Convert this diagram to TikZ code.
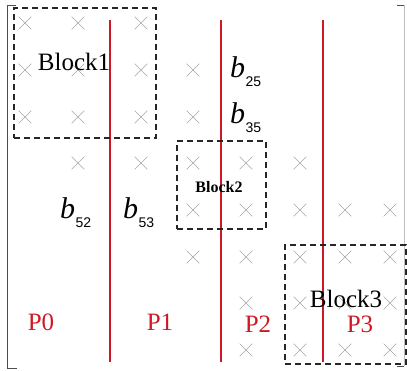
\documentclass[tikz,border=0pt]{standalone}
\usepackage{fontspec}
\setmainfont{Liberation Serif}
\newfontfamily\subfont{Liberation Sans}
\usetikzlibrary{shapes.misc}
\definecolor{pred}{RGB}{205,25,35}
\definecolor{xgray}{RGB}{165,165,165}
\begin{document}
\begin{tikzpicture}[x=1pt,y=-1pt,
  xmark/.style={cross out,draw=xgray,line width=0.6pt,minimum size=12pt,inner sep=0pt},
  blockbox/.style={draw=black!85,line width=1.7pt,dash pattern=on 6pt off 4pt},
  plabel/.style={text=pred,font=\fontsize{25}{25}\selectfont,anchor=base,inner sep=0pt},
  blabel/.style={anchor=base west,inner sep=0pt},
  partline/.style={draw=pred,line width=1.2pt},
  bracket/.style={draw=black!70,line width=1pt}]
\useasboundingbox (0,0) rectangle (407,370);
% crosses
\foreach \r/\y/\cols in {1/23/{1,2,3},2/70/{1,2,3,4},3/117/{1,2,3,4},4/163/{2,3,4,5,6},
  5/210/{4,5,6,7,8},6/257/{4,5,6,7,8},7/303/{5,6,7,8},8/350/{5,6,7,8}}{
  \foreach \c in \cols {
    \pgfmathsetmacro{\xx}{{0,25,78,141,193,246,300,345,390}[\c]}
    \node[xmark] (x\r\c) at (\xx,\y) {};
  }
}
% bracket
\coordinate (lt) at (16,5); \coordinate (ltc) at (7,5);
\coordinate (lb) at (17,368); \coordinate (lbc) at (7,368);
\draw[bracket] (lt) -- (ltc) -- (lbc) -- (lb);
\coordinate (rt) at (397,5); \coordinate (rtc) at (404,5);
\coordinate (rb) at (397,366); \coordinate (rbc) at (404,366);
\draw[bracket] (rt) -- (rtc);
\draw[draw=black!25,line width=0.6pt] (rtc) -- (rbc);
\draw[bracket] (rbc) -- (rb);
% partition lines
\coordinate (pt1) at (110,20); \coordinate (pb1) at (110,362);
\coordinate (pt2) at (221,20); \coordinate (pb2) at (221,362);
\coordinate (pt3) at (323,20); \coordinate (pb3) at (323,362);
\draw[partline] (pt1) -- (pb1);
\draw[partline] (pt2) -- (pb2);
\draw[partline] (pt3) -- (pb3);
% blocks
\node[blockbox,minimum width=142pt,minimum height=130pt,anchor=north west] (B1) at (13,7) {};
\node[blockbox,minimum width=89pt,minimum height=88pt,anchor=north west] (B2) at (176,140) {};
\node[blockbox,minimum width=121pt,minimum height=119pt,anchor=north west] (B3) at (284,244) {};
\node[anchor=base,inner sep=0pt,font=\fontsize{25}{25}\selectfont] (t1) at (74,70) {Block1};
\node[anchor=base,inner sep=0pt,font=\fontsize{16}{16}\selectfont\bfseries] (t2) at (219,192) {Block2};
\node[anchor=base,inner sep=0pt,font=\fontsize{25}{25}\selectfont] (t3) at (346,307) {Block3};
% b labels
\newcommand{\bsub}[1]{{\fontsize{30}{30}\selectfont\itshape b}\kern0.5pt\raisebox{-9pt}{\subfont\fontsize{14}{14}\selectfont #1}}
\node[blabel] (b25) at (230,77) {\bsub{25}};
\node[blabel] (b35) at (230,123) {\bsub{35}};
\node[blabel] (b52) at (60,218) {\bsub{52}};
\node[blabel] (b53) at (123,218) {\bsub{53}};
% processor labels
\node[plabel] (P0) at (41,330) {P0};
\node[plabel] (P1) at (160,330) {P1};
\node[plabel] (P2) at (258,332) {P2};
\node[plabel] (P3) at (360,332) {P3};
\end{tikzpicture}
\end{document}
